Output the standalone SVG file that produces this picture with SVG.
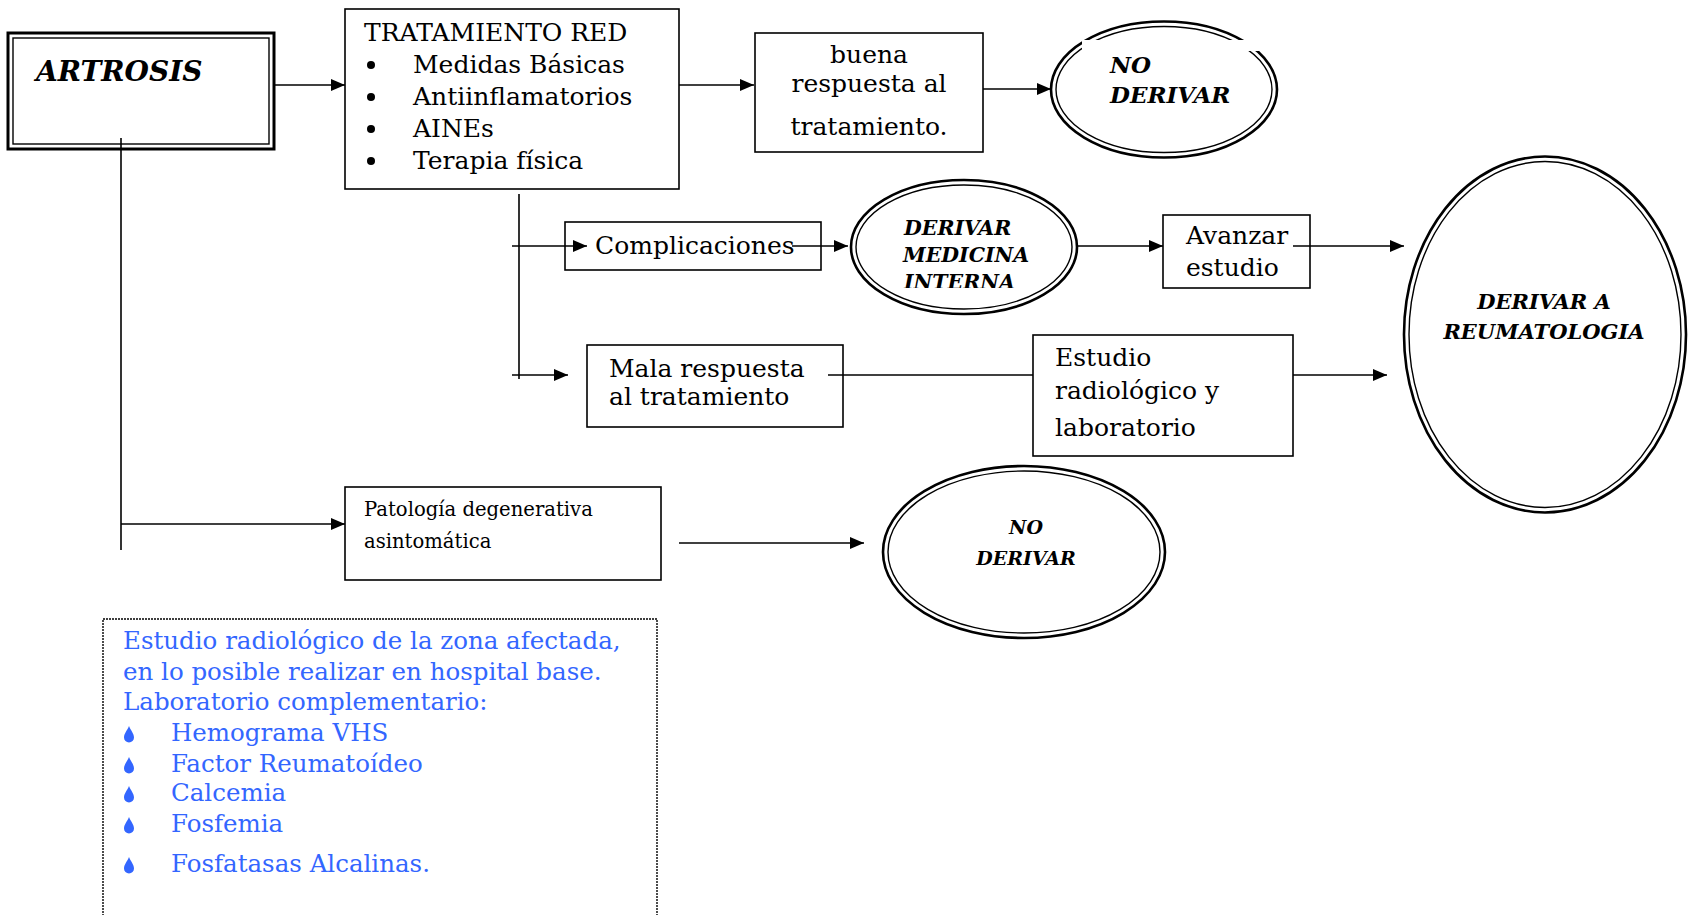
<svg xmlns="http://www.w3.org/2000/svg" width="1690" height="915" viewBox="0 0 1690 915">
<style>
.box{fill:#fff;stroke:#000;stroke-width:1.6}
.t{font-family:"DejaVu Serif","Liberation Serif",serif;font-size:25px;fill:#000}
.s{font-size:19.6px}
.bi{font-family:"DejaVu Serif","Liberation Serif",serif;font-weight:bold;font-style:italic;fill:#000}
.eo{fill:#fff;stroke:#000;stroke-width:2.6}
.ei{fill:none;stroke:#000;stroke-width:1.4}
.c{fill:none;stroke:#000;stroke-width:1.6}
.blue{font-family:"DejaVu Serif","Liberation Serif",serif;font-size:24.5px;fill:#3366ff}
</style>
<defs>
<marker id="ah" markerWidth="14" markerHeight="12" refX="14" refY="6" orient="auto" markerUnits="userSpaceOnUse"><path d="M0,0 L14,6 L0,12 z" fill="#000"/></marker>
<path id="drop" d="M0,-9 C1.5,-5 5,-1.5 5,2.5 A5,5 0 0 1 -5,2.5 C-5,-1.5 -1.5,-5 0,-9 z" fill="#3366ff"/>
<clipPath id="dmiclip"><rect x="850" y="180" width="230" height="108"/></clipPath>
</defs>
<rect width="1690" height="915" fill="#fff"/>

<g id="connectors">
<path class="c" d="M121,138 V550" />
<path class="c" d="M121,524 H345" marker-end="url(#ah)"/>
<path class="c" d="M270,85 H345" marker-end="url(#ah)"/>
<path class="c" d="M679,85 H754" marker-end="url(#ah)"/>
<path class="c" d="M983,89 H1051" marker-end="url(#ah)"/>
<path class="c" d="M519,194 V379" />
<path class="c" d="M679,543 H864" marker-end="url(#ah)"/>
<path class="c" d="M1070,246 H1163" marker-end="url(#ah)"/>
<path class="c" d="M1293,375 H1387" marker-end="url(#ah)"/>
</g>

<g id="artrosis">
<rect x="8" y="33" width="266" height="116" fill="#fff" stroke="#000" stroke-width="3"/>
<rect x="13" y="38" width="256" height="106" fill="none" stroke="#000" stroke-width="1.4"/>
<text class="bi" x="36" y="81" font-size="28">ARTROSIS</text>
<path class="c" d="M121,138 V149"/>
</g>

<g id="tratamiento">
<rect class="box" x="345" y="9" width="334" height="180"/>
<text class="t" x="364" y="41">TRATAMIENTO RED</text>
<g class="t">
<circle cx="371" cy="65" r="4"/><text x="413" y="73">Medidas Básicas</text>
<circle cx="371" cy="97" r="4"/><text x="413" y="105">Antiinflamatorios</text>
<circle cx="371" cy="129" r="4"/><text x="413" y="137">AINEs</text>
<circle cx="371" cy="161" r="4"/><text x="413" y="169">Terapia física</text>
</g>
</g>

<g id="buena">
<rect class="box" x="755" y="33" width="228" height="119"/>
<text class="t" text-anchor="middle" x="869" y="63">buena</text>
<text class="t" text-anchor="middle" x="869" y="92">respuesta al</text>
<text class="t" text-anchor="middle" x="869" y="135">tratamiento.</text>
</g>

<g id="noderivar1">
<ellipse class="eo" cx="1164" cy="89.5" rx="113" ry="68"/>
<ellipse class="ei" cx="1164" cy="89.5" rx="108" ry="63"/>
<rect x="1082" y="40" width="180" height="11" fill="#fff"/>
<text class="bi" x="1110" y="73" font-size="23">NO</text>
<text class="bi" x="1110" y="103" font-size="23">DERIVAR</text>
</g>

<g id="complicaciones">
<rect class="box" x="565" y="222" width="256" height="48"/>
<text class="t" x="595" y="254">Complicaciones</text>
</g>

<g id="derivarmedicina">
<ellipse class="eo" cx="964" cy="247" rx="113" ry="67"/>
<ellipse class="ei" cx="964" cy="247" rx="108" ry="62"/>
<g clip-path="url(#dmiclip)">
<text class="bi" x="904" y="235" font-size="20.5">DERIVAR</text>
<text class="bi" x="903" y="262" font-size="20.5">MEDICINA</text>
<text class="bi" x="904" y="289" font-size="20.5">INTERNA</text>
</g>
</g>

<g id="avanzar">
<rect class="box" x="1163" y="215" width="147" height="73"/>
<text class="t" x="1186" y="244">Avanzar</text>
<text class="t" x="1186" y="276">estudio</text>
</g>

<g id="reumatologia">
<ellipse class="eo" cx="1545" cy="334.5" rx="141" ry="178"/>
<ellipse class="ei" cx="1545" cy="334.5" rx="136" ry="173"/>
<text class="bi" text-anchor="middle" x="1544" y="309" font-size="21">DERIVAR A</text>
<text class="bi" text-anchor="middle" x="1544" y="339" font-size="21">REUMATOLOGIA</text>
</g>

<g id="mala">
<rect class="box" x="587" y="345" width="256" height="82"/>
<text class="t" x="609" y="377">Mala respuesta</text>
<text class="t" x="609" y="405">al tratamiento</text>
</g>

<g id="estudio">
<rect class="box" x="1033" y="335" width="260" height="121"/>
<text class="t" x="1055" y="366">Estudio</text>
<text class="t" x="1055" y="399">radiológico y</text>
<text class="t" x="1055" y="436">laboratorio</text>
</g>

<g id="patologia">
<rect class="box" x="345" y="487" width="316" height="93"/>
<text class="t s" x="364" y="516">Patología degenerativa</text>
<text class="t s" x="364" y="548">asintomática</text>
</g>

<g id="noderivar2">
<ellipse class="eo" cx="1024" cy="552" rx="141" ry="86"/>
<ellipse class="ei" cx="1024" cy="552" rx="136" ry="81"/>
<text class="bi" text-anchor="middle" x="1026" y="534" font-size="19">NO</text>
<text class="bi" text-anchor="middle" x="1026" y="565" font-size="19">DERIVAR</text>
</g>

<g id="connectors-top">
<path class="c" d="M512,246 H587" marker-end="url(#ah)"/>
<path class="c" d="M792,246 H848" marker-end="url(#ah)"/>
<path class="c" d="M1293,246 H1404" marker-end="url(#ah)"/>
<path class="c" d="M512,375 H568" marker-end="url(#ah)"/>
<path class="c" d="M828,375 H1033"/>
</g>

<g id="nota">
<rect x="103" y="619" width="554" height="310" fill="none" stroke="#000" stroke-width="1.4" stroke-dasharray="2,1"/>
<text class="blue" x="123" y="649">Estudio radiológico de la zona afectada,</text>
<text class="blue" x="123" y="680">en lo posible realizar en hospital base.</text>
<text class="blue" x="123" y="710">Laboratorio complementario:</text>
<use href="#drop" x="129" y="735"/><text class="blue" x="171" y="741">Hemograma VHS</text>
<use href="#drop" x="129" y="766"/><text class="blue" x="171" y="772">Factor Reumatoídeo</text>
<use href="#drop" x="129" y="795"/><text class="blue" x="171" y="801">Calcemia</text>
<use href="#drop" x="129" y="826"/><text class="blue" x="171" y="832">Fosfemia</text>
<use href="#drop" x="129" y="866"/><text class="blue" x="171" y="872">Fosfatasas Alcalinas.</text>
</g>
</svg>
